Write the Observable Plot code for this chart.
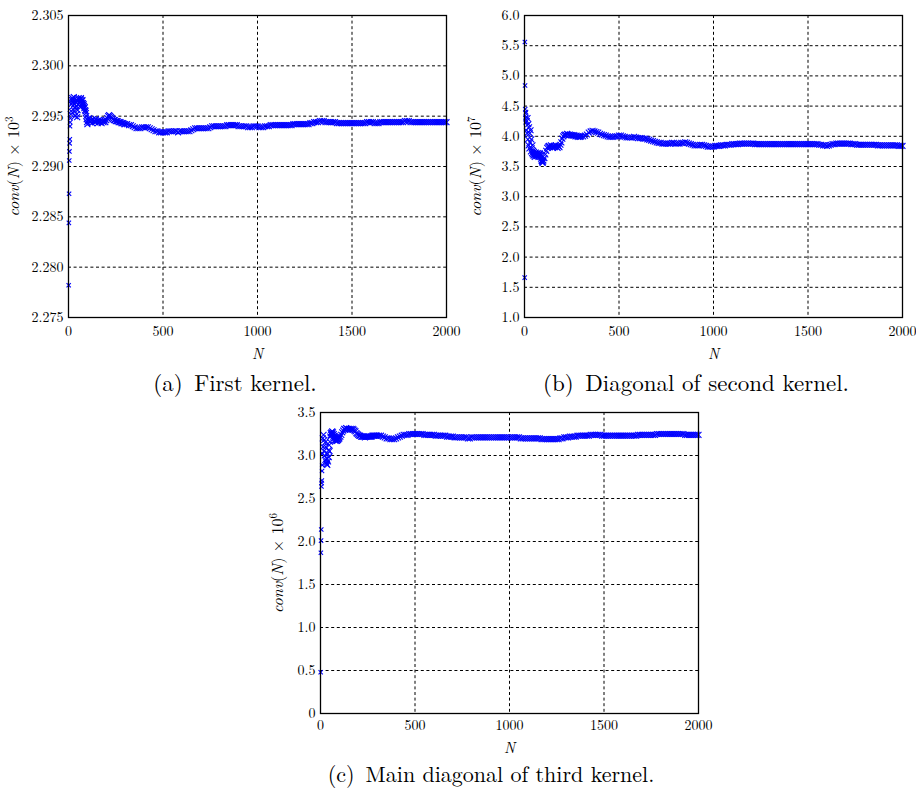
<!DOCTYPE html>
<html>
<head>
<meta charset="utf-8">
<script src="https://cdn.jsdelivr.net/npm/d3@7"></script>
<script src="https://cdn.jsdelivr.net/npm/@observablehq/plot@0.6"></script>
<style>
  html, body { margin: 0; padding: 0; background: #fff; }
  #fig { position: relative; width: 916px; height: 788px; background: #fff; overflow: hidden; }
  #fig svg { position: absolute; overflow: visible; }
  .cap { position: absolute; transform: translate(-50%, -50%); white-space: nowrap; line-height: 1;
         font-family: "Latin Modern Roman", "Liberation Serif", serif; font-size: 23px; color: #000; }
</style>
</head>
<body>
<div id="fig"></div>
<script>
// ---------------- data ----------------
const N = [1,2,3,4,5,6,7,8,9,10,
  12,14,16,18,20,22,24,26,28,30,32,34,36,38,40,42,44,46,48,50,52,54,56,58,60,62,64,66,68,70,72,74,76,78,80,82,84,86,88,90,92,94,96,98,100,
  105,110,115,120,125,130,135,140,145,150,155,160,165,170,175,180,185,190,195,200,205,210,215,220,225,230,235,240,245,250,255,260,265,270,275,280,285,290,295,300,
  310,320,330,340,350,360,370,380,390,400,410,420,430,440,450,460,470,480,490,500,
  510,520,530,540,550,560,570,580,590,600,610,620,630,640,650,660,670,680,690,700,
  710,720,730,740,750,760,770,780,790,800,810,820,830,840,850,860,870,880,890,900,
  910,920,930,940,950,960,970,980,990,1000,1010,1020,1030,1040,1050,1060,1070,1080,1090,1100,
  1110,1120,1130,1140,1150,1160,1170,1180,1190,1200,1210,1220,1230,1240,1250,1260,1270,1280,1290,1300,
  1310,1320,1330,1340,1350,1360,1370,1380,1390,1400,1410,1420,1430,1440,1450,1460,1470,1480,1490,1500,
  1510,1520,1530,1540,1550,1560,1570,1580,1590,1600,1610,1620,1630,1640,1650,1660,1670,1680,1690,1700,
  1710,1720,1730,1740,1750,1760,1770,1780,1790,1800,1810,1820,1830,1840,1850,1860,1870,1880,1890,1900,
  1910,1920,1930,1940,1950,1960,1970,1980,1990,2000];

// (a) First kernel, conv(N) x 10^3
const convFirst = [2.2782,2.2844,2.2873,2.2906,2.2915,2.2923,2.2927,2.2940,2.2944,2.2948,
  2.2952,2.2955,2.2962,2.2966,2.2968,2.2964,2.2960,2.2966,2.2969,2.2962,2.2955,2.2950,2.2958,2.2964,2.2966,2.2960,2.2952,2.2949,2.2956,2.2962,
  2.2967,2.2968,2.2966,2.2963,2.2960,2.2964,2.2967,2.2968,2.2966,2.2963,2.2965,2.2966,2.2963,2.2961,2.2962,2.2960,2.2958,2.2959,2.2956,2.2955,
  2.2953,2.2950,2.2947,2.2944,2.2942,
  2.2946,2.2948,2.2944,2.2946,2.2943,2.2947,2.2945,2.2944,2.2947,2.2945,2.2943,2.2946,2.2944,2.2946,2.2943,2.2945,2.2944,2.2946,2.2944,2.2946,
  2.2948,2.2950,2.2951,2.2950,2.2949,2.2948,2.2947,2.2946,2.2946,2.2945,2.2945,2.2945,2.2944,2.2944,2.2944,2.2943,2.2943,2.2943,2.2942,2.2942,
  2.2942,2.2941,2.2941,2.2940,2.2939, 2.2938,2.2938,2.2938,2.2939,2.2939,
  2.2939,2.2939,2.2938,2.2937,2.2936, 2.2935,2.2935,2.2934,2.2934,2.2934,
  2.2934,2.2934,2.2935,2.2935,2.2935, 2.2935,2.2935,2.2934,2.2935,2.2935,
  2.2935,2.2935,2.2935,2.2935,2.2936, 2.2937,2.2938,2.2938,2.2938,2.2938,
  2.2938,2.2938,2.2938,2.2938,2.2939, 2.2940,2.2940,2.2940,2.2940,2.2940,
  2.2940,2.2940,2.2940,2.2941,2.2941, 2.2941,2.2941,2.2941,2.2941,2.2940,
  2.2940,2.2940,2.2940,2.2940,2.2939, 2.2939,2.2939,2.2940,2.2940,2.2940,
  2.2939,2.2939,2.2939,2.2940,2.2940, 2.2940,2.2941,2.2941,2.2941,2.2941,
  2.2941,2.2941,2.2941,2.2941,2.2941, 2.2941,2.2941,2.2941,2.2942,2.2942,
  2.2942,2.2942,2.2942,2.2942,2.2942, 2.2942,2.2942,2.2943,2.2943,2.2944,
  2.2944,2.2944,2.2945,2.2945,2.2945, 2.2944,2.2944,2.2944,2.2944,2.2944,
  2.2944,2.2943,2.2943,2.2943,2.2943, 2.2943,2.2943,2.2943,2.2943,2.2943,
  2.2943,2.2943,2.2943,2.2943,2.2943, 2.2943,2.2943,2.2944,2.2944,2.2944,
  2.2944,2.2943,2.2943,2.2943,2.2944, 2.2944,2.2944,2.2944,2.2944,2.2944,
  2.2944,2.2944,2.2944,2.2944,2.2944, 2.2944,2.2944,2.2945,2.2945,2.2945,
  2.2944,2.2944,2.2944,2.2944,2.2944, 2.2944,2.2944,2.2944,2.2944,2.2944,
  2.2944,2.2944,2.2944,2.2944,2.2944, 2.2944,2.2944,2.2944,2.2944,2.2944];

// (b) Diagonal of second kernel, conv(N) x 10^7
const convSecond = [1.66,5.56,4.84,4.45,4.30,4.38,4.22,4.40,4.10,4.32,
  4.25,4.05,4.30,3.95,4.20,3.85,4.15,3.80,4.05,3.90,4.10,3.75,3.95,3.80,3.72,3.85,3.70,3.76,3.68,3.74,
  3.70,3.66,3.72,3.69,3.73,3.70,3.67,3.71,3.68,3.72,3.69,3.66,3.68,3.70,3.72,3.70,3.68,3.66,3.63,3.60,
  3.59,3.57,3.56,3.58,3.60,
  3.64,3.70,3.76,3.81,3.83,3.84,3.82,3.85,3.83,3.81,3.84,3.82,3.85,3.83,3.81,3.84,3.82,3.86,3.90,3.96,
  4.00,4.02,4.03,4.02,4.04,4.03,4.02,4.03,4.02,4.02,4.01,4.02,4.01,4.00,4.01,4.00,3.99,4.00,3.99,4.00,
  4.00,4.01,4.03,4.06,4.08, 4.09,4.08,4.07,4.06,4.04,
  4.03,4.02,4.01,4.00,3.99, 3.99,3.99,4.00,4.00,4.01,
  4.01,4.00,3.99,3.98,3.98, 3.98,3.98,3.99,3.98,3.97,
  3.97,3.97,3.96,3.96,3.95, 3.94,3.93,3.92,3.91,3.90,
  3.89,3.89,3.88,3.88,3.88, 3.88,3.88,3.89,3.89,3.88,
  3.88,3.88,3.89,3.89,3.90, 3.89,3.88,3.87,3.86,3.85,
  3.85,3.85,3.86,3.86,3.85, 3.84,3.83,3.83,3.83,3.83,
  3.84,3.84,3.84,3.85,3.85, 3.85,3.86,3.86,3.86,3.87,
  3.87,3.87,3.87,3.88,3.88, 3.88,3.88,3.88,3.88,3.88,
  3.88,3.87,3.87,3.87,3.87, 3.87,3.87,3.87,3.87,3.87,
  3.87,3.87,3.87,3.87,3.87, 3.87,3.87,3.87,3.87,3.87,
  3.87,3.87,3.87,3.87,3.87, 3.87,3.87,3.87,3.87,3.87,
  3.87,3.87,3.87,3.87,3.87, 3.86,3.86,3.85,3.85,3.84,
  3.85,3.86,3.87,3.87,3.88, 3.88,3.88,3.88,3.88,3.88,
  3.88,3.88,3.87,3.87,3.87, 3.86,3.86,3.86,3.86,3.86,
  3.86,3.86,3.86,3.86,3.86, 3.86,3.85,3.85,3.85,3.85,
  3.85,3.85,3.85,3.85,3.85, 3.85,3.85,3.84,3.84,3.84];

// (c) Main diagonal of third kernel, conv(N) x 10^6
const convThird = [0.48,1.87,2.01,2.14,2.64,2.68,2.71,2.82,2.89,3.02,
  3.20,3.10,3.24,3.05,3.18,3.00,3.15,2.95,3.10,2.92,2.90,2.96,2.89,3.02,2.93,3.06,2.98,3.12,3.05,3.16,
  3.22,3.26,3.24,3.27,3.25,3.28,3.24,3.27,3.22,3.25,3.20,3.23,3.18,3.21,3.17,3.20,3.18,3.20,3.17,3.19,
  3.18,3.21,3.19,3.22,3.20,
  3.22,3.24,3.27,3.29,3.31,3.30,3.32,3.31,3.30,3.31,3.30,3.31,3.30,3.31,3.30,3.29,3.28,3.26,3.25,3.24,
  3.23,3.23,3.22,3.22,3.22,3.22,3.21,3.22,3.22,3.22,3.22,3.22,3.22,3.22,3.23,3.23,3.23,3.23,3.23,3.23,
  3.23,3.23,3.22,3.21,3.20, 3.20,3.19,3.19,3.19,3.20,
  3.21,3.22,3.23,3.24,3.24, 3.24,3.25,3.25,3.25,3.25,
  3.25,3.25,3.25,3.25,3.24, 3.24,3.24,3.24,3.24,3.24,
  3.23,3.23,3.23,3.23,3.23, 3.23,3.22,3.22,3.22,3.22,
  3.21,3.21,3.21,3.21,3.21, 3.21,3.21,3.20,3.20,3.21,
  3.21,3.21,3.21,3.21,3.21, 3.21,3.21,3.21,3.21,3.21,
  3.21,3.21,3.21,3.21,3.21, 3.21,3.21,3.21,3.21,3.21,
  3.21,3.21,3.21,3.21,3.21, 3.20,3.20,3.20,3.20,3.20,
  3.20,3.20,3.20,3.20,3.20, 3.20,3.19,3.19,3.19,3.19,
  3.19,3.19,3.19,3.19,3.19, 3.19,3.20,3.20,3.21,3.21,
  3.21,3.22,3.22,3.22,3.22, 3.23,3.23,3.23,3.23,3.23,
  3.23,3.23,3.24,3.24,3.24, 3.24,3.24,3.24,3.23,3.23,
  3.23,3.23,3.23,3.23,3.23, 3.23,3.23,3.23,3.23,3.23,
  3.23,3.23,3.23,3.23,3.23, 3.23,3.23,3.24,3.24,3.24,
  3.24,3.24,3.24,3.24,3.24, 3.24,3.24,3.25,3.25,3.25,
  3.25,3.25,3.25,3.25,3.25, 3.25,3.25,3.25,3.25,3.25,
  3.25,3.25,3.24,3.24,3.24, 3.24,3.24,3.24,3.24,3.24];

const xTicks = [0, 500, 1000, 1500, 2000];
const yTicksFirst = [2.275, 2.280, 2.285, 2.290, 2.295, 2.300, 2.305];
const yTicksSecond = [1.0, 1.5, 2.0, 2.5, 3.0, 3.5, 4.0, 4.5, 5.0, 5.5, 6.0];
const yTicksThird = [0, 0.5, 1.0, 1.5, 2.0, 2.5, 3.0, 3.5];
const captions = ["(a)\u2002First kernel.", "(b)\u2002Diagonal of second kernel.", "(c)\u2002Main diagonal of third kernel."];
const exponents = ["3", "7", "6"];

// ---------------- drawing ----------------
const fig = document.getElementById("fig");
const serif = "'Latin Modern Roman', 'Liberation Serif', serif";

function panel(vals, opts) {
  const n = Math.min(N.length, vals.length);
  const data = [];
  for (let i = 0; i < n; i++) data.push({n: N[i], v: vals[i]});
  const early = data.filter(d => d.n <= 10);
  const rest = data.filter(d => d.n > 10);
  const yLab = "conv(N) × 10" + opts.exp;
  const svg = Plot.plot({
    width: opts.width, height: opts.height,
    marginLeft: opts.ml, marginRight: opts.mr, marginTop: opts.mt, marginBottom: opts.mb,
    style: {fontFamily: serif, fontSize: "14px", color: "#000", background: "transparent", overflow: "visible"},
    x: {domain: [0, 2000]},
    y: {domain: opts.yDomain},
    marks: [
      Plot.gridX(xTicks, {stroke: "#000", strokeOpacity: 1, strokeWidth: 1, strokeDasharray: "3,2.6"}),
      Plot.gridY(opts.yTicks, {stroke: "#000", strokeOpacity: 1, strokeWidth: 1, strokeDasharray: "3,2.6"}),
      Plot.dot(rest, {x: "n", y: "v", symbol: "times", r: 2.8, stroke: "#0000ff", strokeWidth: 1.1}),
      Plot.dot(early, {x: "n", y: "v", symbol: "times", r: 2.1, stroke: "#0000ff", strokeWidth: 1.1}),
      Plot.frame({stroke: "#000", strokeWidth: 1.3}),
      Plot.axisX(xTicks, {tickSize: 0, tickPadding: opts.xpad, tickFormat: d => String(d),
        label: "N", labelAnchor: "center", labelOffset: opts.xlo, labelArrow: "none"}),
      Plot.axisY(opts.yTicks, {tickSize: 0, tickPadding: 5, tickFormat: opts.fmt,
        label: yLab, labelAnchor: "center", labelOffset: opts.lo, labelArrow: "none"})
    ]
  });
  svg.style.left = opts.left + "px";
  svg.style.top = opts.top + "px";
  // typeset the axis titles (italic math variables, superscript exponent)
  svg.querySelectorAll("text").forEach(t => {
    const s = t.textContent.trim();
    if (s === "N") {
      t.setAttribute("font-style", "italic");
      t.setAttribute("font-size", "15");
    } else if (s === yLab) {
      t.textContent = "";
      t.setAttribute("font-size", "16");
      const NS = "http://www.w3.org/2000/svg";
      const add = (txt, attrs) => {
        const ts = document.createElementNS(NS, "tspan");
        ts.textContent = txt;
        for (const k in attrs) ts.setAttribute(k, attrs[k]);
        t.appendChild(ts);
      };
      add("conv", {"font-style": "italic"});
      add("(");
      add("N", {"font-style": "italic"});
      add(") × 10");
      add(opts.exp, {"font-size": "11", "dy": "-6"});
    }
  });
  fig.appendChild(svg);
}

panel(convFirst, {left: 0, top: 0, width: 460, height: 370, ml: 68, mr: 14, mt: 15, mb: 53,
  yDomain: [2.275, 2.305], yTicks: yTicksFirst, fmt: d3.format(".3f"), lo: 61, xlo: 41, xpad: 9, exp: exponents[0]});
panel(convSecond, {left: 460, top: 0, width: 456, height: 370, ml: 64, mr: 14, mt: 15, mb: 53,
  yDomain: [1.0, 6.0], yTicks: yTicksSecond, fmt: d3.format(".1f"), lo: 55, xlo: 41, xpad: 9, exp: exponents[1]});
panel(convThird, {left: 270, top: 390, width: 440, height: 370, ml: 50, mr: 12, mt: 22, mb: 47,
  yDomain: [0, 3.5], yTicks: yTicksThird, fmt: d => d === 0 ? "0" : d3.format(".1f")(d), lo: 49, xlo: 39, xpad: 7, exp: exponents[2]});

const capPos = [[235, 381, 23], [696, 381, 23], [491, 773, 22]];
captions.forEach((c, i) => {
  const div = document.createElement("div");
  div.className = "cap";
  div.textContent = c;
  div.style.left = capPos[i][0] + "px";
  div.style.top = capPos[i][1] + "px";
  div.style.fontSize = capPos[i][2] + "px";
  fig.appendChild(div);
});
</script>
</body>
</html>
